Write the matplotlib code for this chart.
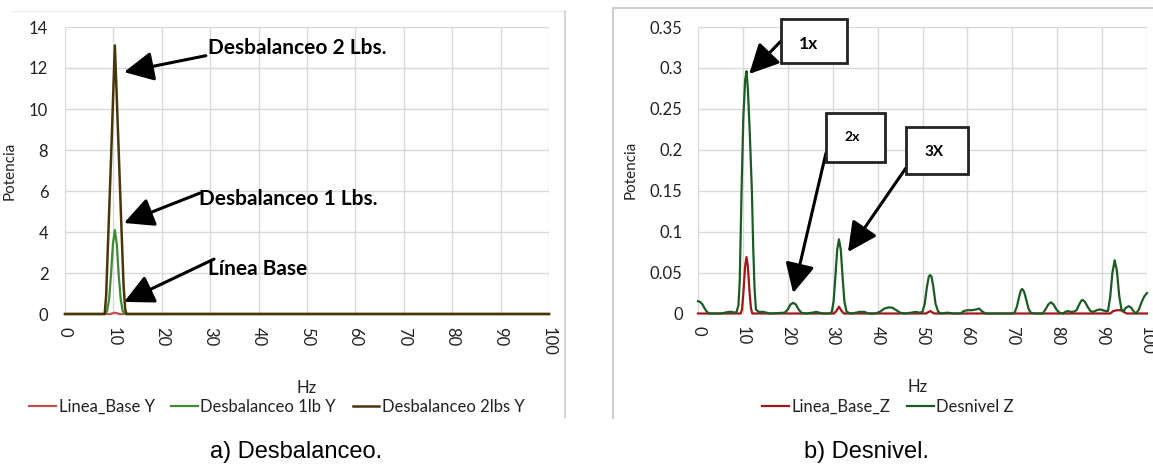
import matplotlib
matplotlib.use("Agg")
import matplotlib.pyplot as plt
from matplotlib.patches import Rectangle
from matplotlib.lines import Line2D

# ---------------- data: (a) Desbalanceo ----------------
hz_base_y = [0, 9.3, 9.8, 10.3, 10.8, 11.3, 100]
linea_base_y = [0, 0, 0.03, 0.06, 0.03, 0, 0]

hz_1lb = [0, 8.3, 8.7, 9.1, 9.5, 9.9, 10.3, 10.7, 11.1, 11.5, 11.9, 12.4, 100]
desb_1lb_y = [0, 0, 0.15, 0.7, 1.9, 3.4, 4.1, 3.4, 1.9, 0.75, 0.15, 0, 0]

hz_2lbs = [0, 8.2, 8.5, 9.0, 9.5, 10.0, 10.3, 10.6, 11.1, 11.6, 12.1, 12.45, 12.7, 100]
desb_2lbs_y = [0, 0, 0.9, 4.2, 7.5, 11.0, 13.1, 11.2, 7.9, 4.6, 1.4, 0.2, 0, 0]

# ---------------- data: (b) Desnivel ----------------
hz_base_z = [0, 9.5, 9.8, 10.1, 10.5, 10.8, 11.1, 11.5, 11.8, 12.1,
             30.3, 30.8, 31.4, 32.0, 32.5, 50.8, 51.7, 52.6,
             91.8, 92.5, 93.3, 94.2, 94.8, 95.5, 100]
linea_base_z = [0, 0, 0.005, 0.025, 0.058, 0.069, 0.058, 0.025, 0.006, 0,
                0, 0.003, 0.0083, 0.003, 0, 0, 0.003, 0,
                0, 0.003, 0.004, 0.004, 0.002, 0, 0]

hz_desnivel = [0, 0.5, 1.0, 1.5, 2.0, 2.5, 5.0, 6.0, 6.8, 7.5, 8.2, 8.6,
               9.0, 9.3, 9.7, 10.1, 10.5, 10.8, 11.1, 11.5, 11.8, 12.0, 12.3, 12.6, 12.9,
               13.5, 14.5, 15.3, 16.0,
               19.3, 20.0, 20.6, 21.2, 21.8, 22.4, 23.0, 24.0, 25.5, 26.3, 27.0, 28.0, 29.3,
               29.8, 30.2, 30.6, 31.0, 31.4, 31.8, 32.2, 32.6, 33.1,
               34.0, 35.2, 36.0, 37.0, 38.0,
               39.5, 40.5, 41.5, 42.5, 43.3, 44.2, 45.0, 46.0, 47.5, 48.5, 49.3,
               50.0, 50.5, 51.0, 51.4, 51.7, 52.0, 52.4, 52.9, 53.5, 54.2, 55.5, 57.0,
               58.5, 59.2, 60.0, 61.0, 62.0, 62.6, 63.2, 64.0, 70.0,
               70.5, 71.0, 71.5, 71.9, 72.2, 72.6, 73.1, 73.6, 74.1, 75.0,
               76.8, 77.5, 78.0, 78.6, 79.2, 79.8, 80.5, 81.3, 81.8, 82.4, 83.0, 83.6,
               84.3, 84.9, 85.4, 85.7, 86.2, 86.8, 87.4, 88.0, 88.8, 89.5, 90.2, 90.8,
               91.3, 91.8, 92.3, 92.8, 93.3, 93.8, 94.3, 94.8,
               95.3, 95.9, 96.5, 97.1, 97.6, 98.2, 98.8, 99.4, 100]
desnivel_z = [0.015, 0.014, 0.011, 0.006, 0.002, 0.0, 0.0, 0.001, 0.002, 0.002, 0.001, 0.002,
              0.01, 0.04, 0.15, 0.24, 0.285, 0.296, 0.275, 0.225, 0.18, 0.15, 0.08, 0.03, 0.005,
              0.002, 0.002, 0.001, 0.0,
              0.001, 0.005, 0.011, 0.013, 0.011, 0.005, 0.001, 0.0, 0.001, 0.002, 0.001, 0.0, 0.0,
              0.002, 0.015, 0.045, 0.078, 0.0906, 0.078, 0.045, 0.015, 0.002,
              0.0, 0.001, 0.002, 0.002, 0.0,
              0.0, 0.002, 0.006, 0.0075, 0.007, 0.004, 0.001, 0.0, 0.001, 0.002, 0.001,
              0.002, 0.012, 0.033, 0.045, 0.047, 0.045, 0.033, 0.012, 0.002, 0.0, 0.001, 0.0,
              0.0, 0.003, 0.004, 0.004, 0.005, 0.006, 0.003, 0.0, 0.0,
              0.001, 0.008, 0.02, 0.028, 0.030, 0.027, 0.017, 0.006, 0.001, 0.0,
              0.0, 0.006, 0.011, 0.0137, 0.011, 0.005, 0.001, 0.0, 0.002, 0.003, 0.002, 0.002,
              0.004, 0.011, 0.016, 0.0165, 0.014, 0.008, 0.003, 0.002, 0.004, 0.005, 0.004, 0.003,
              0.003, 0.02, 0.05, 0.065, 0.052, 0.022, 0.005, 0.003,
              0.007, 0.009, 0.007, 0.002, 0.0, 0.005, 0.014, 0.021, 0.025]

x_ticks = list(range(0, 101, 10))
y_ticks_a = [0, 2, 4, 6, 8, 10, 12, 14]
y_ticks_b = [0, 0.05, 0.1, 0.15, 0.2, 0.25, 0.3, 0.35]
y_tick_labels_b = ["0", "0.05", "0.1", "0.15", "0.2", "0.25", "0.3", "0.35"]

# ---------------- figure ----------------
W, H = 1153, 465
plt.rcParams['font.family'] = ['Lato', 'DejaVu Sans']
fig = plt.figure(figsize=(W / 100, H / 100), dpi=100)
fig.patch.set_facecolor('white')

def px_axes(x0, x1, ytop, ybot):
    return fig.add_axes([x0 / W, (H - ybot) / H, (x1 - x0) / W, (ybot - ytop) / H])

grid_col = '#d9d9d9'

def style(ax, yticks, ylabels, ypad):
    for s in ax.spines.values():
        s.set_visible(False)
    ax.set_xlim(0, 100)
    ax.set_xticks(x_ticks)
    ax.set_yticks(yticks)
    ax.set_yticklabels(ylabels)
    ax.grid(True, color=grid_col, lw=1.0)
    ax.set_axisbelow(True)
    ax.tick_params(axis='both', length=0, labelsize=12, colors='#222222')
    ax.tick_params(axis='y', pad=ypad)
    ax.tick_params(axis='x', pad=9, labelrotation=-90)
    for lab in ax.get_xticklabels():
        lab.set_ha('center')
        lab.set_va('top')

# ---- left chart
axA = px_axes(65, 549, 27, 314)
style(axA, y_ticks_a, [str(v) for v in y_ticks_a], 12)
axA.set_ylim(0, 14)
axA.plot(hz_base_y, linea_base_y, color='#c0504d', lw=1.6, clip_on=False, label='Linea_Base Y')
axA.plot(hz_1lb, desb_1lb_y, color='#3f8a34', lw=1.6, clip_on=False, label='Desbalanceo 1lb Y')
axA.plot(hz_2lbs, desb_2lbs_y, color='#46360a', lw=1.8, clip_on=False, label='Desbalanceo 2lbs Y')
axA.set_ylabel('Potencia', fontsize=11, color='#222222')
axA.yaxis.set_label_coords(-48 / 484, 0.5)

arrow_kw = dict(arrowstyle='-|>,head_length=0.9,head_width=0.45', color='black', lw=2.2,
                mutation_scale=20, shrinkA=0, shrinkB=0)
ann_font = dict(fontsize=15, fontweight='bold', color='black', va='center', ha='left')
axA.annotate('', xy=(12.2, 11.8), xytext=(29.1, 12.6), arrowprops=arrow_kw, annotation_clip=False)
axA.text(29.5, 13.0, 'Desbalanceo 2 Lbs.', **ann_font)
axA.annotate('', xy=(12.2, 4.44), xytext=(27.9, 5.9), arrowprops=arrow_kw, annotation_clip=False)
axA.text(27.7, 5.6, 'Desbalanceo 1 Lbs.', **ann_font)
axA.annotate('', xy=(12.2, 0.59), xytext=(30.8, 2.68), arrowprops=arrow_kw, annotation_clip=False)
axA.text(29.5, 2.2, 'Línea Base', **ann_font)

# ---- right chart
axB = px_axes(698, 1147, 27, 313.5)
style(axB, y_ticks_b, y_tick_labels_b, 11)
axB.set_ylim(0, 0.35)
axB.plot(hz_base_z, linea_base_z, color='#a01818', lw=1.6, clip_on=False, label='Linea_Base_Z')
axB.plot(hz_desnivel, desnivel_z, color='#1d5b25', lw=1.6, clip_on=False, label='Desnivel Z')
axB.set_ylabel('Potencia', fontsize=11, color='#222222')
axB.yaxis.set_label_coords(-60 / 449, 0.5)

def box(ax, x0, x1, y0, y1, label, fs, tx, ty):
    r = Rectangle((x0, y0), x1 - x0, y1 - y0, facecolor='white', edgecolor='#222222',
                  lw=2.0, clip_on=False, zorder=5)
    ax.add_patch(r)
    ax.text(tx, ty, label, fontsize=fs, fontweight='bold', ha='center', va='center', zorder=6)

box(axB, 18.5, 33.2, 0.3063, 0.360, '1x', 12.5, 24.7, 0.329)
box(axB, 28.5, 41.6, 0.185, 0.245, '2x', 10, 34.3, 0.2156)
box(axB, 46.3, 60.1, 0.1704, 0.2278, '3X', 11, 52.6, 0.197)
axB.annotate('', xy=(11.4, 0.2926), xytext=(18.5, 0.333), arrowprops=arrow_kw, annotation_clip=False)
axB.annotate('', xy=(21.2, 0.025), xytext=(28.5, 0.196), arrowprops=arrow_kw, annotation_clip=False)
axB.annotate('', xy=(33.4, 0.0751), xytext=(46.3, 0.1777), arrowprops=arrow_kw, annotation_clip=False)

# ---- legends and axis titles
def fx(px):
    return px / W

def fy(py):
    return (H - py) / H

legA = fig.legend(handles=axA.get_lines(), loc='center', bbox_to_anchor=(fx(277), fy(407)),
                  ncol=3, frameon=False, fontsize=12, handlelength=1.6, handletextpad=0.15,
                  columnspacing=1.0, borderaxespad=0, borderpad=0)
legB = fig.legend(handles=axB.get_lines(), loc='center', bbox_to_anchor=(fx(888), fy(407)),
                  ncol=2, frameon=False, fontsize=12, handlelength=1.6, handletextpad=0.15,
                  columnspacing=1.0, borderaxespad=0, borderpad=0)
for leg in (legA, legB):
    for t in leg.get_texts():
        t.set_color('#222222')

fig.text(fx(307), fy(388), 'Hz', fontsize=12, ha='center', va='center', color='#222222')
fig.text(fx(918), fy(387), 'Hz', fontsize=12, ha='center', va='center', color='#222222')

# frames of the original chart areas
fig.add_artist(Line2D([fx(11), fx(565)], [fy(11), fy(11)], color='#eeeeee', lw=1))
fig.add_artist(Line2D([fx(565), fx(565)], [fy(11), fy(418)], color='#d0d0d0', lw=1.2))
fig.add_artist(Line2D([fx(613), fx(613)], [fy(8), fy(418)], color='#cfcfcf', lw=1.5))
fig.add_artist(Line2D([fx(613), 1.0], [fy(8), fy(8)], color='#cfcfcf', lw=1.5))

# captions
fig.text(fx(296), fy(452), 'a) Desbalanceo.', fontsize=17, ha='center', va='center',
         family=['Liberation Sans', 'DejaVu Sans'])
fig.text(fx(866), fy(452), 'b) Desnivel.', fontsize=17, ha='center', va='center',
         family=['Liberation Sans', 'DejaVu Sans'])

fig.savefig('out.png', dpi=100)
